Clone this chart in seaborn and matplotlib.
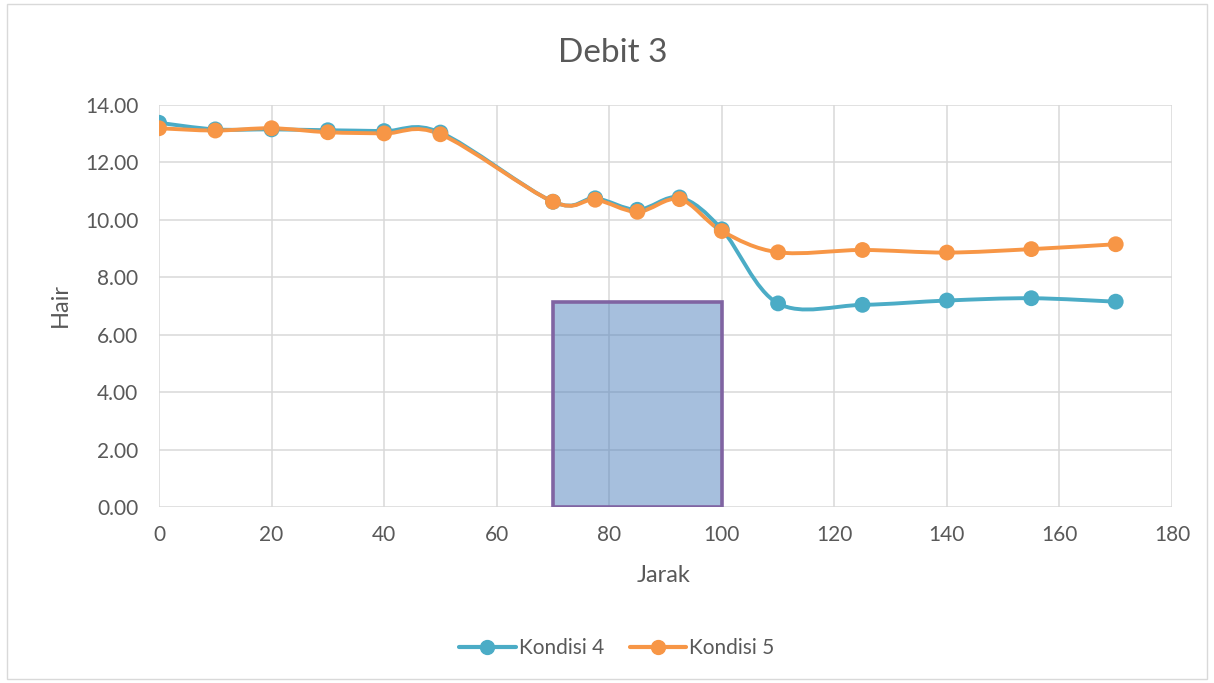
import numpy as np
import pandas as pd
import seaborn as sns
import matplotlib
matplotlib.use("Agg")
import matplotlib.pyplot as plt
from matplotlib.path import Path
from matplotlib.patches import PathPatch, Rectangle
from matplotlib.lines import Line2D

# ---- data ----
jarak = [0, 10, 20, 30, 40, 50, 70, 77.5, 85, 92.5, 100, 110, 125, 140, 155, 170]
kondisi4 = [13.38, 13.15, 13.15, 13.12, 13.09, 13.04, 10.63, 10.75, 10.35, 10.78,
            9.67, 7.09, 7.04, 7.19, 7.27, 7.15]
kondisi5 = [13.19, 13.11, 13.19, 13.05, 13.01, 12.98, 10.63, 10.70, 10.28, 10.72,
            9.61, 8.87, 8.95, 8.86, 8.98, 9.15]
series_names = ["Kondisi 4", "Kondisi 5"]
box_x = [70, 100]
box_h = 7.15
x_ticks = list(range(0, 181, 20))
y_ticks = [0, 2, 4, 6, 8, 10, 12, 14]

blue = "#4BACC6"
orange = "#F79646"
txt = "#595959"
grid = "#D9D9D9"

sns.set_theme(style="white")
plt.rcParams["font.family"] = ["Lato", "DejaVu Sans"]

fig = plt.figure(figsize=(12.14, 6.83), dpi=100)
ax = fig.add_axes([0.131, 0.2577, 0.8344, 0.5886])

df = pd.DataFrame({
    "Jarak": jarak * 2,
    "Hair": kondisi4 + kondisi5,
    "Seri": [series_names[0]] * len(jarak) + [series_names[1]] * len(jarak),
})


def smooth_path(xs, ys):
    pts = np.column_stack([xs, ys]).astype(float)
    n = len(pts)
    verts = [pts[0]]
    codes = [Path.MOVETO]
    for i in range(n - 1):
        p0 = pts[i - 1] if i > 0 else pts[i]
        p1 = pts[i]
        p2 = pts[i + 1]
        p3 = pts[i + 2] if i + 2 < n else pts[i + 1]
        c1 = p1 + (p2 - p0) / 6.0
        c2 = p2 - (p3 - p1) / 6.0
        verts += [c1, c2, p2]
        codes += [Path.CURVE4] * 3
    return Path(verts, codes)


# box region
ax.add_patch(Rectangle((box_x[0], 0), box_x[1] - box_x[0], box_h,
                       facecolor="#4F81BD", alpha=0.5, edgecolor="none", zorder=2))
ax.add_patch(Rectangle((box_x[0], 0), box_x[1] - box_x[0], box_h,
                       facecolor="none", edgecolor="#8064A2", lw=2.6, zorder=3))

for ys, col in [(kondisi4, blue), (kondisi5, orange)]:
    ax.add_patch(PathPatch(smooth_path(jarak, ys), facecolor="none", edgecolor=col,
                           lw=2.8, capstyle="round", joinstyle="round", zorder=4))

sns.scatterplot(data=df, x="Jarak", y="Hair", hue="Seri",
                palette=[blue, orange], s=130, edgecolor="none",
                ax=ax, zorder=5, legend=False)

ax.set_xlim(0, 180)
ax.set_ylim(0, 14)
ax.set_xticks(x_ticks)
ax.set_yticks(y_ticks)
ax.set_xticklabels([str(v) for v in x_ticks])
ax.set_yticklabels([f"{v:.2f}" for v in y_ticks])
ax.grid(True, color=grid, lw=1.1, zorder=0)
ax.set_axisbelow(True)
for s in ax.spines.values():
    s.set_visible(False)
ax.tick_params(axis="both", length=0, labelsize=15, colors=txt)
ax.tick_params(axis="y", pad=15)
ax.tick_params(axis="x", pad=13)
ax.set_xlabel("")
ax.set_ylabel("")

fig.text(664 / 1214, 1 - 576 / 683, "Jarak", fontsize=17, color=txt,
         ha="center", va="center")
fig.text(60 / 1214, 1 - 305 / 683, "Hair", fontsize=17, color=txt,
         rotation=90, ha="center", va="center")
fig.text(613 / 1214, 1 - 62 / 683, "Debit 3", fontsize=24, color=txt,
         ha="center", va="baseline")

handles = [Line2D([0], [0], color=blue, lw=3, marker="o", markersize=10),
           Line2D([0], [0], color=orange, lw=3, marker="o", markersize=10)]
fig.legend(handles, series_names, loc="center", bbox_to_anchor=(617 / 1214, 0.051),
           ncol=2, frameon=False, fontsize=15, labelcolor=txt,
           handlelength=2.7, columnspacing=1.25, handletextpad=0.15)

fig.add_artist(Rectangle((0.006, 0.006), 0.988, 0.988, transform=fig.transFigure,
                         facecolor="none", edgecolor="#D9D9D9", lw=1))

fig.savefig("out.png", dpi=100, facecolor="white")
